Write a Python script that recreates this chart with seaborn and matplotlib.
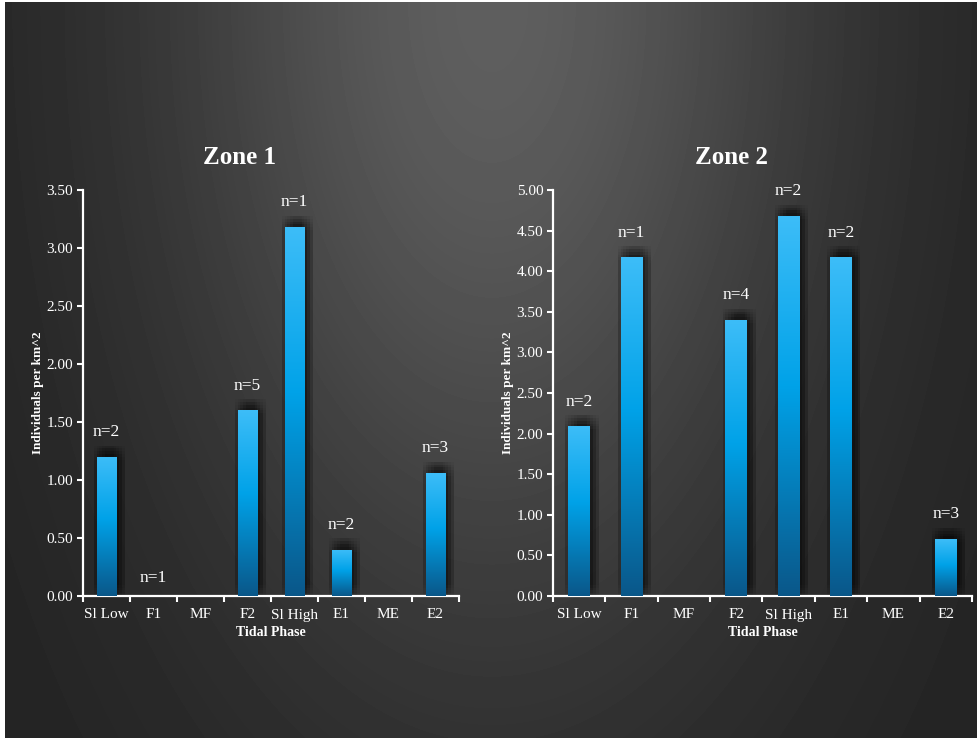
import numpy as np
import pandas as pd
import matplotlib
matplotlib.use("Agg")
import matplotlib.pyplot as plt
import matplotlib.patheffects as pe
from matplotlib.colors import LinearSegmentedColormap
from matplotlib.ticker import FixedLocator
import seaborn as sns

# data
phases = ["Sl Low", "F1", "MF", "F2", "Sl High", "E1", "ME", "E2"]
zone1_density = [1.20, 0.0, 0.0, 1.60, 3.18, 0.40, 0.0, 1.06]
zone2_density = [2.09, 4.17, 0.0, 3.40, 4.68, 4.17, 0.0, 0.70]
zone1_n = [2, 1, None, 5, 1, 2, None, 3]
zone2_n = [2, 1, None, 4, 2, 2, None, 3]
zone1_ticks = [0.0, 0.5, 1.0, 1.5, 2.0, 2.5, 3.0, 3.5]
zone2_ticks = [0.0, 0.5, 1.0, 1.5, 2.0, 2.5, 3.0, 3.5, 4.0, 4.5, 5.0]

sns.set_style("dark")
plt.rcParams['font.family'] = ['Liberation Serif', 'DejaVu Serif']
plt.rcParams['text.color'] = 'white'

fig = plt.figure(figsize=(9.78, 7.38), dpi=100, facecolor='white')

# radial dark background, brightest at top centre
bg = fig.add_axes([5/978, 0, 973/978, 736/738], zorder=-10)
H, W = 736, 973
yy, xx = np.mgrid[0:H, 0:W]
r2 = ((xx - W/2) / 680.0) ** 2 + (yy / 1300.0) ** 2
shade = 0.135 + 0.235 * np.exp(-4.2 * r2)
bg.imshow(shade, cmap='gray', vmin=0, vmax=1, aspect='auto', interpolation='bilinear')
bg.set_axis_off()

bar_cmap = LinearSegmentedColormap.from_list(
    "bar", [(0.0, "#0a5789"), (0.55, "#00a2e8"), (1.0, "#3dbdf8")])

# soft halo: many faint offset copies
shadow = [pe.SimplePatchShadow(offset=(dx, dy), shadow_rgbFace='black', alpha=0.035)
          for dx in (-2, 0, 2, 4, 6) for dy in (-2, 0, 2, 4, 6, 8)]


def draw_zone(ax, values, counts, ticks, title, title_x):
    df = pd.DataFrame({"phase": phases, "density": values})
    sns.barplot(data=df, x="phase", y="density", ax=ax, width=0.42,
                color="#0a5789", saturation=1, linewidth=0, zorder=2)
    ax.set_facecolor((0, 0, 0, 0))
    grad = np.linspace(0, 1, 256).reshape(-1, 1)
    for p in ax.patches:
        h = p.get_height()
        if h <= 0:
            p.set_visible(False)
            continue
        p.set_path_effects(shadow + [pe.Normal()])
        x0, w = p.get_x(), p.get_width()
        im = ax.imshow(grad, cmap=bar_cmap, origin='lower', aspect='auto',
                       extent=[x0, x0 + w, 0, h], zorder=3)
        im.set_clip_path(p)
    ax.set_xlim(-0.5, len(phases) - 0.5)
    ax.set_ylim(ticks[0], ticks[-1])

    for i, (v, n) in enumerate(zip(values, counts)):
        if n is None:
            continue
        ax.annotate(f"n={n}", (i, v), xytext=(0, 12 if v > 0 else 7),
                    textcoords='offset points', ha='center', va='bottom',
                    fontsize=12.5, color='white', zorder=5)

    ax.yaxis.set_major_locator(FixedLocator(ticks))
    ax.set_yticklabels([f"{t:.2f}" for t in ticks])
    ax.xaxis.set_minor_locator(FixedLocator(np.arange(-0.5, len(phases), 1.0)))
    ax.tick_params(axis='x', which='major', length=0, pad=9, labelsize=11, colors='white')
    ax.tick_params(axis='x', which='minor', length=4, width=1.5, color='white', direction='out')
    ax.tick_params(axis='y', which='major', length=4, width=1.5, color='white',
                   direction='out', labelsize=11, labelcolor='white', pad=3, left=True)
    ax.tick_params(axis='x', bottom=True, which='both')
    for s in ("top", "right"):
        ax.spines[s].set_visible(False)
    for s in ("left", "bottom"):
        ax.spines[s].set_visible(True)
        ax.spines[s].set_color('white')
        ax.spines[s].set_linewidth(1.6)
    ax.grid(False)
    ax.set_xlabel("Tidal Phase", fontsize=10, fontweight='bold', color='white', labelpad=3)
    ax.set_ylabel("Individuals per km^2", fontsize=9.5, fontweight='bold', color='white', labelpad=2)
    fig.text(title_x, 1 - 158/738, title, ha='center', va='center',
             fontsize=18, fontweight='bold', color='white')


ax1 = fig.add_axes([83/978, 142/738, 376/978, 406/738])
ax2 = fig.add_axes([553/978, 142/738, 419/978, 406/738])
draw_zone(ax1, zone1_density, zone1_n, zone1_ticks, "Zone 1", 240/978)
draw_zone(ax2, zone2_density, zone2_n, zone2_ticks, "Zone 2", 732/978)

fig.savefig("out.png", dpi=100, facecolor=fig.get_facecolor())
